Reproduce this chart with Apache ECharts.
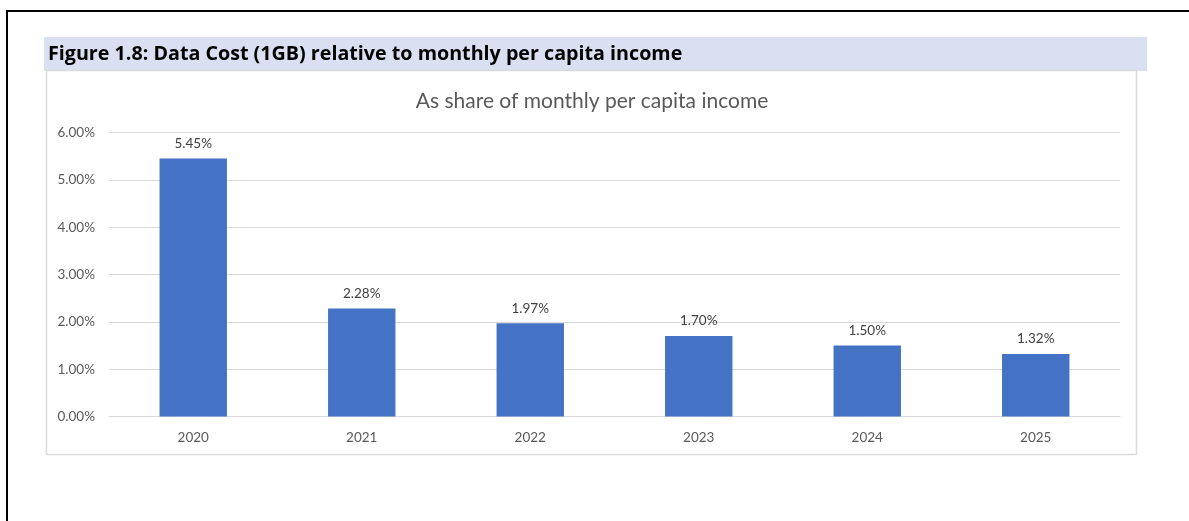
<!DOCTYPE html>
<html>
<head>
<meta charset="utf-8">
<script src="https://cdn.jsdelivr.net/npm/echarts@6/dist/echarts.min.js"></script>
<style>
  html, body { margin: 0; padding: 0; background: #fff; }
  #chart { width: 1189px; height: 521px; }
</style>
</head>
<body>
<div id="chart"></div>
<script>
// Data cost of 1GB as a share of monthly per capita income
const years = ['2020', '2021', '2022', '2023', '2024', '2025'];
const shareValues = [5.45, 2.28, 1.97, 1.70, 1.50, 1.32];
const yTicks = [0, 1, 2, 3, 4, 5, 6];

const figureTitle = 'Figure 1.8: Data Cost (1GB) relative to monthly per capita income';
const chartTitle = 'As share of monthly per capita income';

const FONT = 'Lato, "Open Sans", sans-serif';
const CAPTION_FONT = '"Open Sans", Lato, sans-serif';

const chart = echarts.init(document.getElementById('chart'), null, { renderer: 'canvas' });

chart.setOption({
  animation: false,
  backgroundColor: '#ffffff',
  graphic: [
    // page frame (top and left edges)
    { type: 'line', shape: { x1: 6, y1: 11, x2: 1189, y2: 11 }, style: { stroke: '#000', lineWidth: 2 } },
    { type: 'line', shape: { x1: 7, y1: 10, x2: 7, y2: 521 }, style: { stroke: '#000', lineWidth: 2 } },
    // figure caption band
    { type: 'rect', shape: { x: 44, y: 37, width: 1103, height: 34 }, style: { fill: '#DAE0F2' } },
    { type: 'text', left: 48, top: 44, style: { text: figureTitle, font: 'bold 19.7px ' + CAPTION_FONT, fill: '#000' } },
    // chart area frame
    { type: 'rect', shape: { x: 46.5, y: 70.5, width: 1090, height: 384 }, style: { fill: 'none', stroke: '#d9d9d9', lineWidth: 1.5 }, z: 10 }
  ],
  title: {
    text: chartTitle,
    left: 587,
    textAlign: 'center',
    top: 86,
    textStyle: { fontFamily: FONT, fontSize: 21, fontWeight: 'normal', color: '#595959' }
  },
  grid: { left: 109, right: 69, top: 132.5, bottom: 104.5 },
  xAxis: {
    type: 'category',
    data: years,
    axisLine: { show: true, lineStyle: { color: '#d9d9d9', width: 1 } },
    axisTick: { show: false },
    axisLabel: { color: '#595959', fontFamily: FONT, fontSize: 13.5, margin: 14 }
  },
  yAxis: {
    type: 'value',
    min: yTicks[0],
    max: yTicks[yTicks.length - 1],
    interval: 1,
    axisLine: { show: false },
    axisTick: { show: false },
    splitLine: { lineStyle: { color: '#d9d9d9', width: 1 } },
    axisLabel: {
      color: '#595959', fontFamily: FONT, fontSize: 13.5, margin: 14,
      formatter: v => v.toFixed(2) + '%'
    }
  },
  series: [{
    type: 'bar',
    data: shareValues,
    barWidth: '40%',
    itemStyle: { color: '#4472C4' },
    label: {
      show: true,
      position: 'top',
      distance: 8,
      color: '#404040',
      fontFamily: FONT,
      fontSize: 13.5,
      formatter: p => p.value.toFixed(2) + '%'
    }
  }]
});
</script>
</body>
</html>
